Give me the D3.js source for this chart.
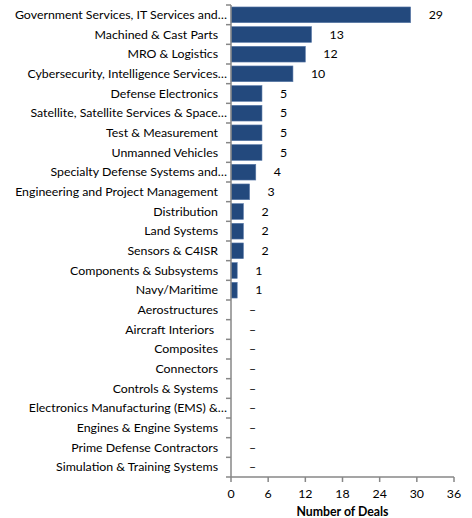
<!DOCTYPE html>
<html><head><meta charset="utf-8">
<script src="https://cdn.jsdelivr.net/npm/d3@7/dist/d3.min.js"></script>
<style>body{margin:0;background:#fff}svg{display:block}text{font-family:Lato,"Open Sans",sans-serif}</style>
</head><body><svg id="c" width="472" height="518"></svg>
<script>
const categories = ["Government Services, IT Services and…","Machined & Cast Parts","MRO & Logistics","Cybersecurity, Intelligence Services…","Defense Electronics","Satellite, Satellite Services & Space…","Test & Measurement","Unmanned Vehicles","Specialty Defense Systems and…","Engineering and Project Management","Distribution","Land Systems","Sensors & C4ISR","Components & Subsystems","Navy/Maritime","Aerostructures","Aircraft Interiors","Composites","Connectors","Controls & Systems","Electronics Manufacturing (EMS) &…","Engines & Engine Systems","Prime Defense Contractors","Simulation & Training Systems"];
const values = [29,13,12,10,5,5,5,5,4,3,2,2,2,1,1,0,0,0,0,0,0,0,0,0];
const xTicks = [0,6,12,18,24,30,36];
const xTitle = "Number of Deals";

const svg = d3.select("#c");
const x = d3.scaleLinear().domain([0,36]).range([231,454]);
const y = d3.scaleBand().domain(categories).range([5,477]).paddingInner(0.2).paddingOuter(0.1);
const axisColor = "#878787";
const fs = 12.35;

// bars
svg.append("g").selectAll("rect").data(values).join("rect")
  .attr("x", x(0)).attr("y",(d,i)=>y(categories[i]))
  .attr("width", d=>x(d)-x(0)).attr("height", y.bandwidth())
  .attr("fill","#23497D").attr("stroke","#5a7aa8").attr("stroke-width",0.6);

// value labels
svg.append("g").selectAll("text").data(values).join("text")
  .attr("x", d=>x(d)+18).attr("y",(d,i)=>y(categories[i])+y.bandwidth()/2)
  .attr("dy","0.35em").attr("font-size",fs).attr("fill","#000")
  .text(d=> d===0 ? "–" : d);

// y axis
const yAxis = svg.append("g");
yAxis.append("line").attr("x1",x(0)).attr("x2",x(0)).attr("y1",5).attr("y2",477).attr("stroke",axisColor).attr("stroke-width",1.5);
const bounds = d3.range(categories.length+1).map(i=>5+i*((477-5)/categories.length));
yAxis.selectAll("line.t").data(bounds).join("line").attr("class","t")
  .attr("x1",x(0)-5).attr("x2",x(0)).attr("y1",d=>d).attr("y2",d=>d).attr("stroke",axisColor).attr("stroke-width",1.5);
yAxis.selectAll("text").data(categories).join("text")
  .attr("x", d=> d.endsWith("…") ? 227 : (d==="Aircraft Interiors" ? 214 : 218))
  .attr("y", d=>y(d)+y.bandwidth()/2).attr("dy","0.35em")
  .attr("text-anchor","end").attr("font-size",fs).attr("fill","#000").text(d=>d);

// x axis
const xAxis = svg.append("g");
xAxis.append("line").attr("x1",x(0)).attr("x2",x(36)).attr("y1",477).attr("y2",477).attr("stroke",axisColor).attr("stroke-width",1.5);
xAxis.selectAll("line.t").data(xTicks).join("line").attr("class","t")
  .attr("x1",d=>x(d)).attr("x2",d=>x(d)).attr("y1",477).attr("y2",482).attr("stroke",axisColor).attr("stroke-width",1.5);
xAxis.selectAll("text").data(xTicks).join("text")
  .attr("x",d=>x(d)).attr("y",494).attr("dy","0.35em").attr("text-anchor","middle")
  .attr("font-size",fs).attr("fill","#000").text(d=>d);
svg.append("text").attr("x",(x(0)+x(36))/2).attr("y",512).attr("dy","0.35em")
  .attr("text-anchor","middle").attr("font-size",12.3).attr("font-weight","bold").text(xTitle);
</script></body></html>
